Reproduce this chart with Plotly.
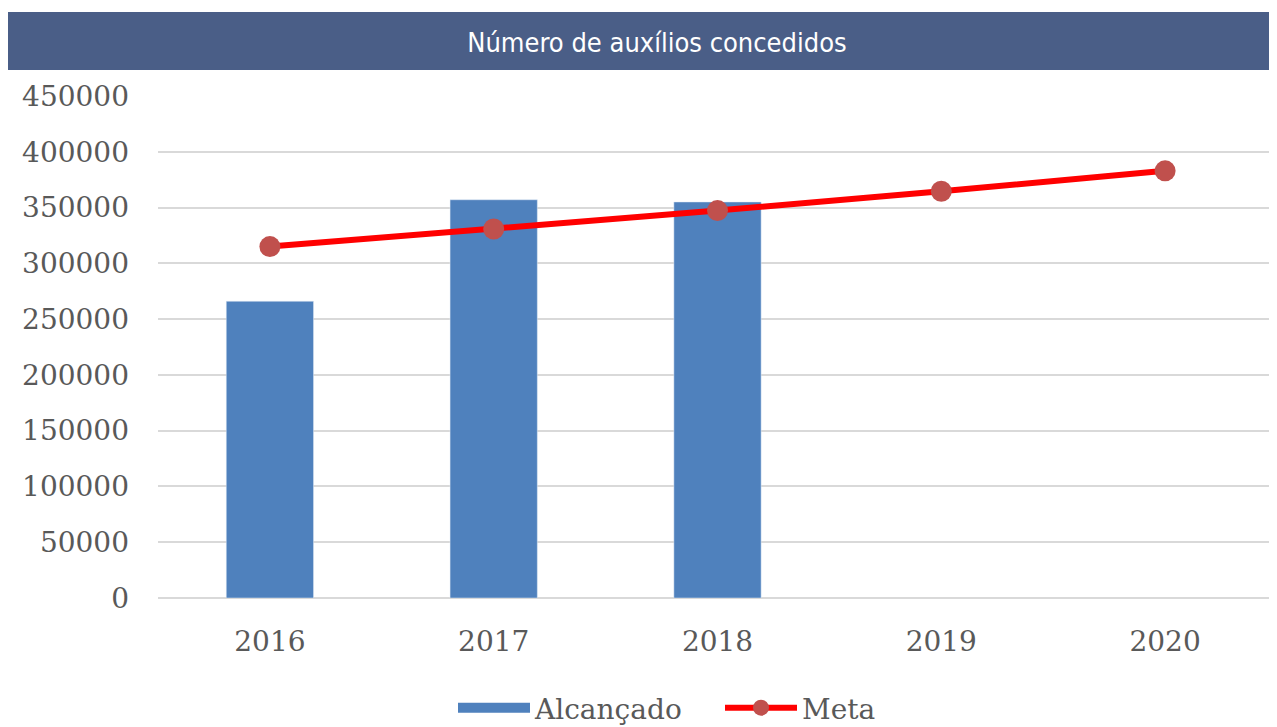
import plotly.graph_objects as go

years = ['2016', '2017', '2018', '2019', '2020']
alcancado = [266000, 357000, 355000, None, None]
meta = [315000, 330750, 347300, 364650, 382900]
y_ticks = [0, 50000, 100000, 150000, 200000, 250000, 300000, 350000, 400000, 450000]

tick_font = dict(family='DejaVu Serif', size=28, color='#595959')

# page body adds 8px margin, so figure is shrunk by that
W, H = 1269, 719
left, top, bottom = 150, 88, 129
plot_w = W - left
plot_h = H - top - bottom

fig = go.Figure()

fig.add_trace(go.Bar(
    x=years,
    y=alcancado,
    name='Alcançado',
    marker_color='#4f81bd',
    width=0.39,
    showlegend=False
))

# wide swatch for the bar series in the legend
fig.add_trace(go.Scatter(
    x=[None],
    y=[None],
    name='Alcançado',
    mode='lines',
    line=dict(color='#4f81bd', width=16)
))

fig.add_trace(go.Scatter(
    x=years,
    y=meta,
    name='Meta',
    mode='lines+markers',
    line=dict(color='#ff0000', width=6),
    marker=dict(color='#c0504d', size=21)
))

# title banner
fig.add_shape(
    type='rect', xref='paper', yref='paper',
    x0=(7 - 8 - left) / plot_w, x1=1.01,
    y0=(590 - 62) / plot_h, y1=(590 - 4) / plot_h,
    fillcolor='#4a5e87', line_width=0, layer='below'
)

fig.update_layout(
    title=dict(
        text='Número de auxílios concedidos',
        x=(657 - 8) / W,
        xanchor='center',
        y=1 - 35 / H,
        yanchor='middle',
        font=dict(family='DejaVu Sans Condensed, Roboto', size=27, color='white')
    ),
    xaxis=dict(
        tickfont=tick_font,
        showgrid=False,
        showline=False,
        ticks='',
        ticklabelstandoff=24,
        range=[-0.5, 4.5]
    ),
    yaxis=dict(
        tickfont=tick_font,
        tickvals=y_ticks,
        ticktext=[str(v) for v in y_ticks],
        range=[0, 450000],
        gridcolor='#d9d9d9',
        gridwidth=1.5,
        zeroline=True,
        zerolinecolor='#d9d9d9',
        zerolinewidth=1.5,
        ticklabelstandoff=28
    ),
    legend=dict(
        orientation='h',
        x=(453 - 8 - left) / plot_w,
        xanchor='left',
        yref='container',
        y=1 - (708 - 8) / H,
        yanchor='middle',
        font=tick_font,
        itemwidth=72,
        entrywidth=180,
        traceorder='normal'
    ),
    plot_bgcolor='white',
    paper_bgcolor='white',
    width=W,
    height=H,
    margin=dict(l=left, r=0, t=top, b=bottom)
)

fig.write_html('out.html')
